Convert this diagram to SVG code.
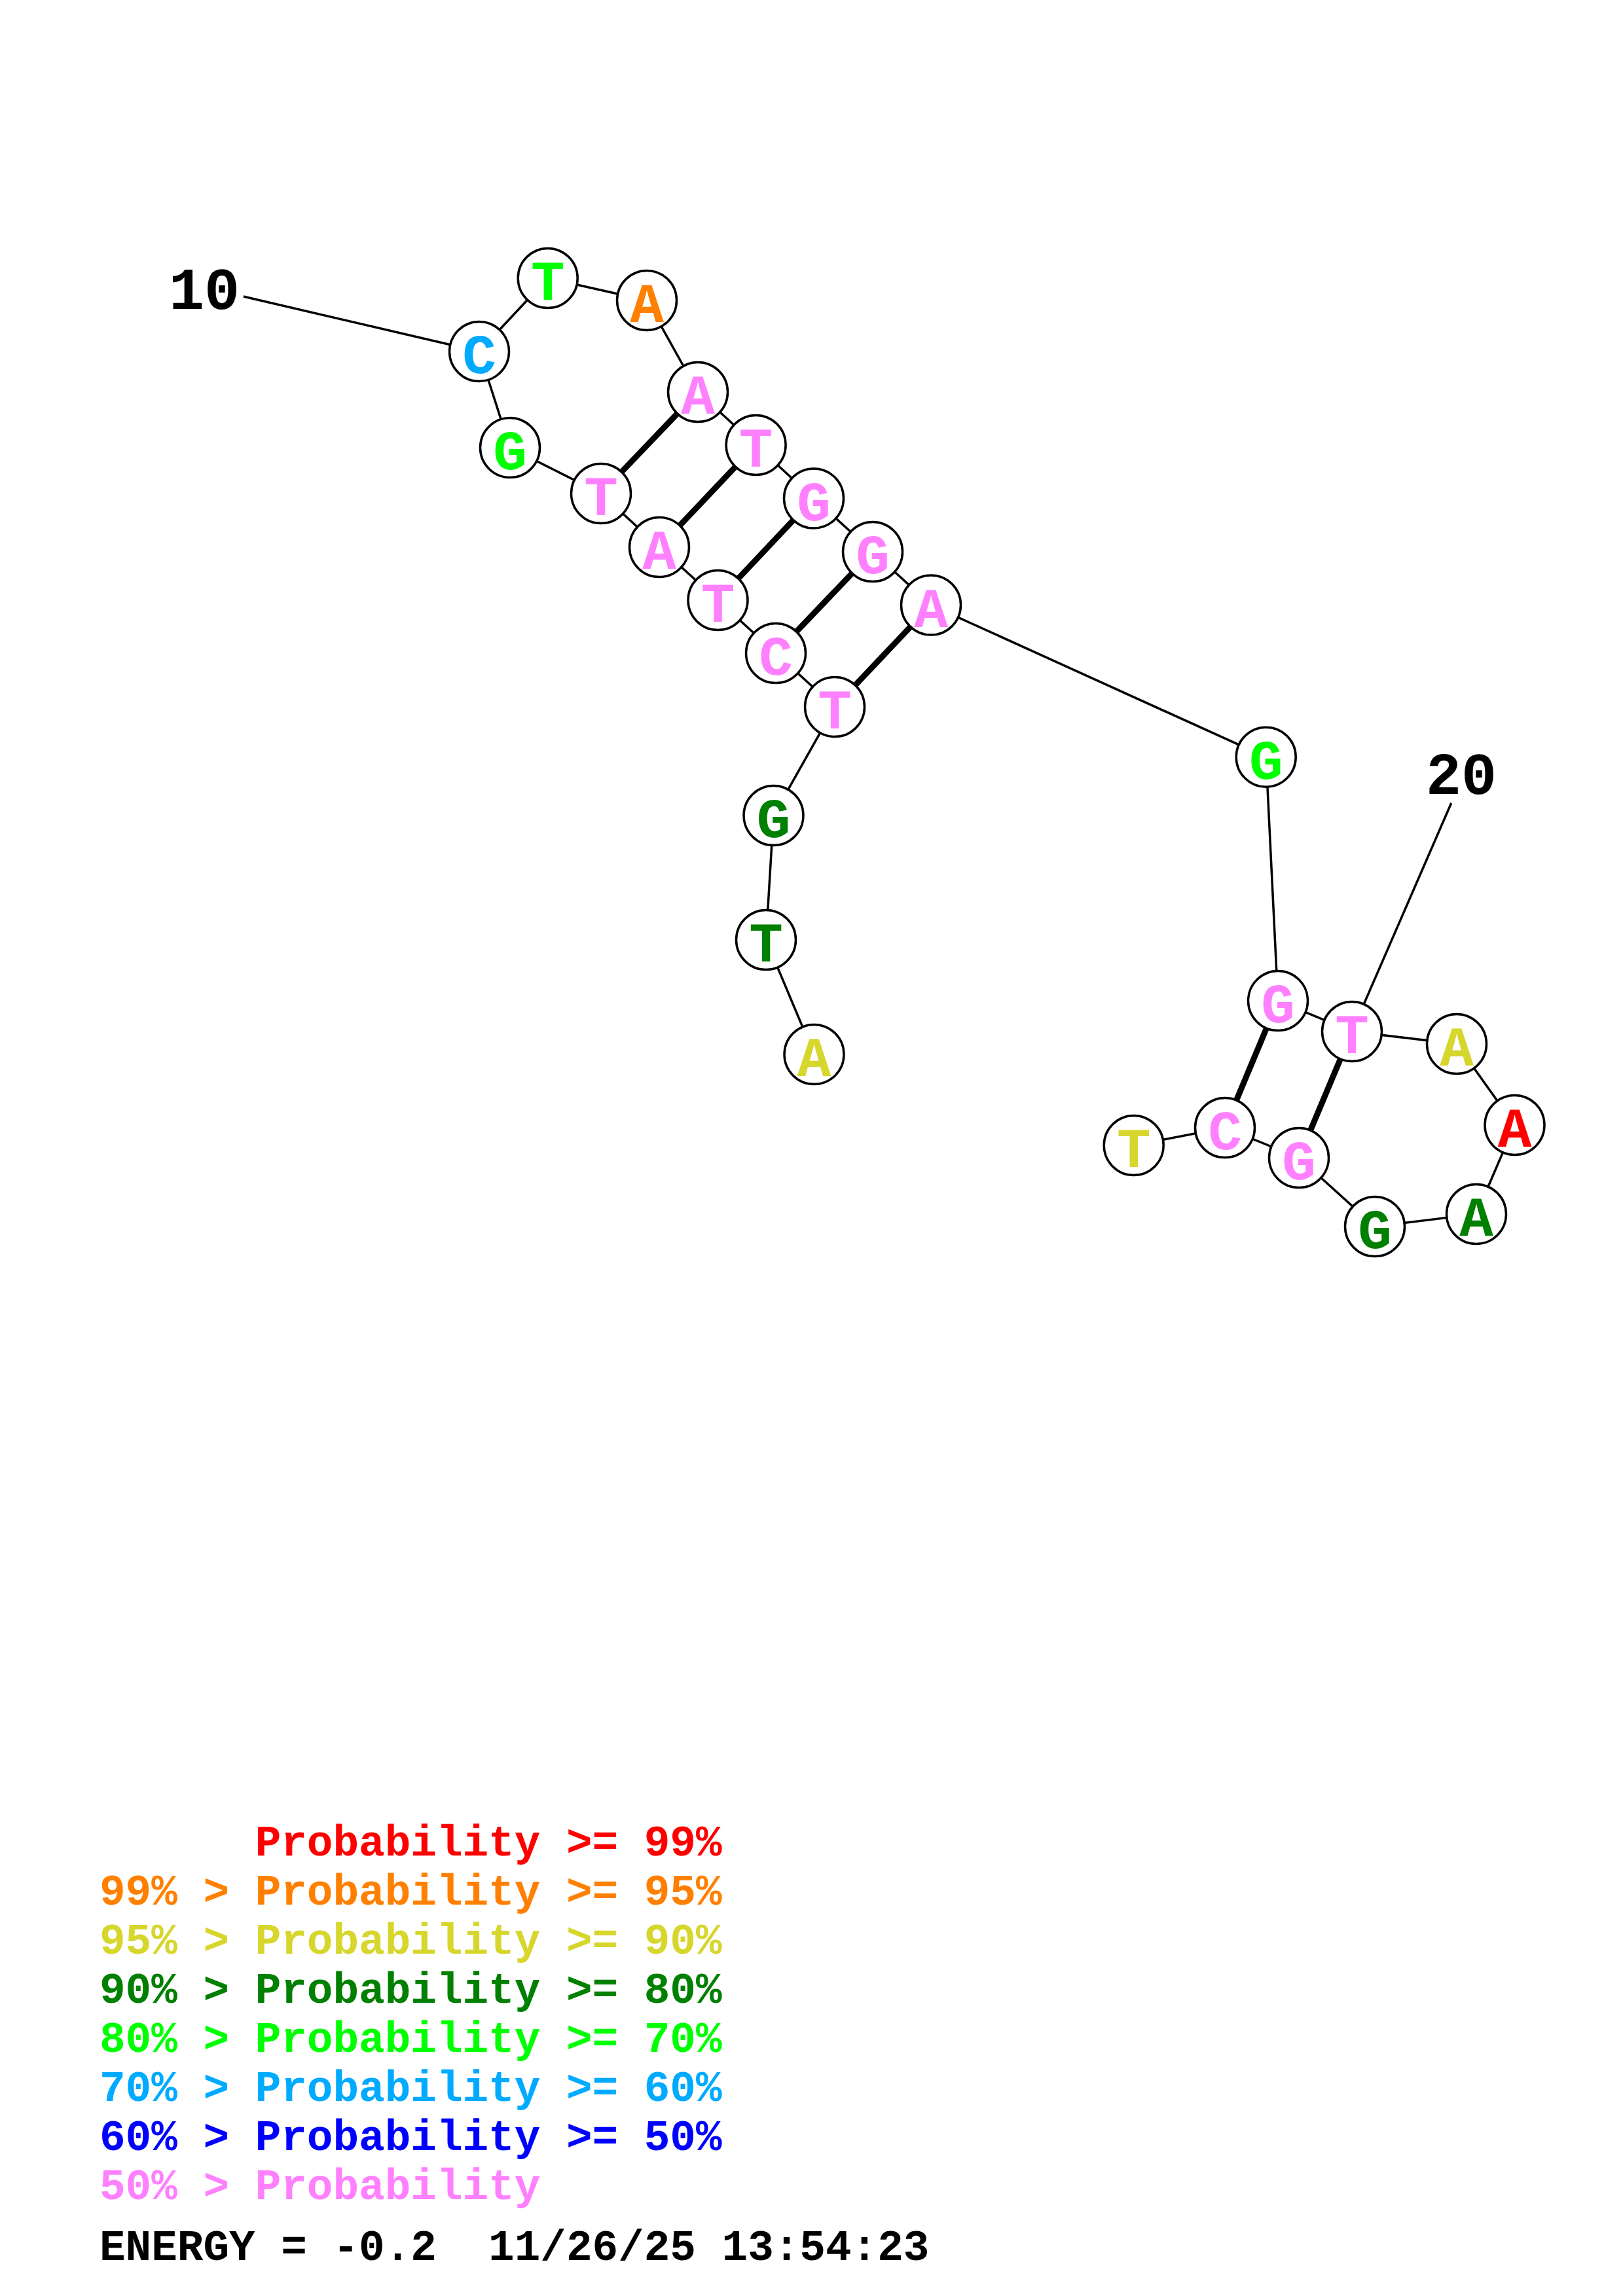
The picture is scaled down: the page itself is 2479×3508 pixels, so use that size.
<svg xmlns="http://www.w3.org/2000/svg" width="2479" height="3508" viewBox="0 0 2479 3508">
<style>
.bb{stroke:#000;stroke-width:3.5;fill:none}
.pr{stroke:#000;stroke-width:9;fill:none}
.nd circle{fill:#fff;stroke:#000;stroke-width:3.5}
.nd text{font-family:"Liberation Mono","Courier New",monospace;font-weight:bold;font-size:86px;text-anchor:middle}
.lbl{font-family:"Liberation Mono","Courier New",monospace;font-weight:bold;font-size:90px;text-anchor:middle;fill:#000}
.lg{font-family:"Liberation Mono","Courier New",monospace;font-weight:bold;font-size:66px;white-space:pre}
.r{fill:#FF0000}.o{fill:#FF8000}.y{fill:#D6D62C}.dg{fill:#008000}.g{fill:#00FF00}.lb{fill:#00AAFF}.b{fill:#0000FF}.p{fill:#FF80FF}
</style>
<rect width="2479" height="3508" fill="#fff"/>
<g id="connectors">
<polyline class="bb" points="1243.5,1611 1170,1436 1181.5,1246 1275,1080 1185,998 1096.5,917 1007,836 918,754 779,684 732,537 836.7,425 988,459 1066,599 1154.6,680 1243,761.5 1333,843 1422,924.5 1933.7,1156.7 1952,1529 2065,1576 2225,1595 2313.5,1719 2255,1855 2100,1874 1984,1769 1871,1723 1731.7,1750"/>
<line class="pr" x1="1066" y1="599" x2="918" y2="754"/>
<line class="pr" x1="1154.6" y1="680" x2="1007" y2="836"/>
<line class="pr" x1="1243" y1="761.5" x2="1096.5" y2="917"/>
<line class="pr" x1="1333" y1="843" x2="1185" y2="998"/>
<line class="pr" x1="1422" y1="924.5" x2="1275" y2="1080"/>
<line class="pr" x1="1952" y1="1529" x2="1871" y2="1723"/>
<line class="pr" x1="2065" y1="1576" x2="1984" y2="1769"/>
<line class="bb" x1="372" y1="453" x2="732" y2="537"/>
<line class="bb" x1="2216.7" y1="1227" x2="2065" y2="1576"/>
</g>
<text class="lbl" x="312" y="472">10</text>
<text class="lbl" x="2232" y="1213">20</text>
<g id="n1" class="nd"><circle cx="1243.5" cy="1611" r="45.5"/><text class="y" x="1243.5" y="1644">A</text></g>
<g id="n2" class="nd"><circle cx="1170" cy="1436" r="45.5"/><text class="dg" x="1170" y="1469">T</text></g>
<g id="n3" class="nd"><circle cx="1181.5" cy="1246" r="45.5"/><text class="dg" x="1181.5" y="1279">G</text></g>
<g id="n4" class="nd"><circle cx="1275" cy="1080" r="45.5"/><text class="p" x="1275" y="1113">T</text></g>
<g id="n5" class="nd"><circle cx="1185" cy="998" r="45.5"/><text class="p" x="1185" y="1031">C</text></g>
<g id="n6" class="nd"><circle cx="1096.5" cy="917" r="45.5"/><text class="p" x="1096.5" y="950">T</text></g>
<g id="n7" class="nd"><circle cx="1007" cy="836" r="45.5"/><text class="p" x="1007" y="869">A</text></g>
<g id="n8" class="nd"><circle cx="918" cy="754" r="45.5"/><text class="p" x="918" y="787">T</text></g>
<g id="n9" class="nd"><circle cx="779" cy="684" r="45.5"/><text class="g" x="779" y="717">G</text></g>
<g id="n10" class="nd"><circle cx="732" cy="537" r="45.5"/><text class="lb" x="732" y="570">C</text></g>
<g id="n11" class="nd"><circle cx="836.7" cy="425" r="45.5"/><text class="g" x="836.7" y="458">T</text></g>
<g id="n12" class="nd"><circle cx="988" cy="459" r="45.5"/><text class="o" x="988" y="492">A</text></g>
<g id="n13" class="nd"><circle cx="1066" cy="599" r="45.5"/><text class="p" x="1066" y="632">A</text></g>
<g id="n14" class="nd"><circle cx="1154.6" cy="680" r="45.5"/><text class="p" x="1154.6" y="713">T</text></g>
<g id="n15" class="nd"><circle cx="1243" cy="761.5" r="45.5"/><text class="p" x="1243" y="794.5">G</text></g>
<g id="n16" class="nd"><circle cx="1333" cy="843" r="45.5"/><text class="p" x="1333" y="876">G</text></g>
<g id="n17" class="nd"><circle cx="1422" cy="924.5" r="45.5"/><text class="p" x="1422" y="957.5">A</text></g>
<g id="n18" class="nd"><circle cx="1933.7" cy="1156.7" r="45.5"/><text class="g" x="1933.7" y="1189.7">G</text></g>
<g id="n19" class="nd"><circle cx="1952" cy="1529" r="45.5"/><text class="p" x="1952" y="1562">G</text></g>
<g id="n20" class="nd"><circle cx="2065" cy="1576" r="45.5"/><text class="p" x="2065" y="1609">T</text></g>
<g id="n21" class="nd"><circle cx="2225" cy="1595" r="45.5"/><text class="y" x="2225" y="1628">A</text></g>
<g id="n22" class="nd"><circle cx="2313.5" cy="1719" r="45.5"/><text class="r" x="2313.5" y="1752">A</text></g>
<g id="n23" class="nd"><circle cx="2255" cy="1855" r="45.5"/><text class="dg" x="2255" y="1888">A</text></g>
<g id="n24" class="nd"><circle cx="2100" cy="1874" r="45.5"/><text class="dg" x="2100" y="1907">G</text></g>
<g id="n25" class="nd"><circle cx="1984" cy="1769" r="45.5"/><text class="p" x="1984" y="1802">G</text></g>
<g id="n26" class="nd"><circle cx="1871" cy="1723" r="45.5"/><text class="p" x="1871" y="1756">C</text></g>
<g id="n27" class="nd"><circle cx="1731.7" cy="1750" r="45.5"/><text class="y" x="1731.7" y="1783">T</text></g>
<g id="legend">
<text class="lg r" x="152" y="2835" xml:space="preserve">      Probability &gt;= 99%</text>
<text class="lg o" x="152" y="2910" xml:space="preserve">99% &gt; Probability &gt;= 95%</text>
<text class="lg y" x="152" y="2985" xml:space="preserve">95% &gt; Probability &gt;= 90%</text>
<text class="lg dg" x="152" y="3060" xml:space="preserve">90% &gt; Probability &gt;= 80%</text>
<text class="lg g" x="152" y="3135" xml:space="preserve">80% &gt; Probability &gt;= 70%</text>
<text class="lg lb" x="152" y="3210" xml:space="preserve">70% &gt; Probability &gt;= 60%</text>
<text class="lg b" x="152" y="3285" xml:space="preserve">60% &gt; Probability &gt;= 50%</text>
<text class="lg p" x="152" y="3360" xml:space="preserve">50% &gt; Probability</text>
<text class="lg" x="152" y="3453" fill="#000" xml:space="preserve">ENERGY = -0.2  11/26/25 13:54:23</text>
</g>
</svg>
